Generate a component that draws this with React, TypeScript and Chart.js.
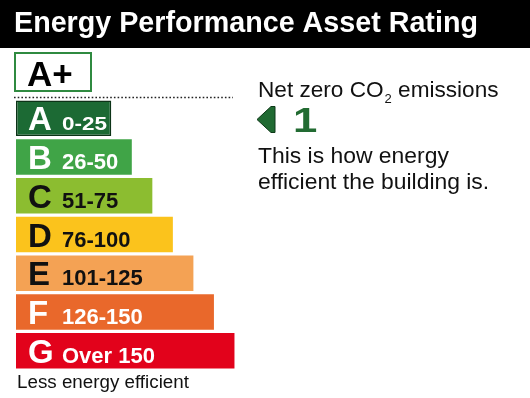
import { useEffect, useRef } from 'react';
import { Chart, registerables } from 'chart.js';

Chart.register(...registerables);

// ---- data ----
const grades = ['A', 'B', 'C', 'D', 'E', 'F', 'G'];
const ranges = ['0-25', '26-50', '51-75', '76-100', '101-125', '126-150', 'Over 150'];
const bandTop = [25, 50, 75, 100, 125, 150, 175];
const barColors = ['#1c6a34', '#40a447', '#8cbd30', '#fbc31c', '#f4a254', '#e9682b', '#e2021b'];
const labelColors = ['#ffffff', '#ffffff', '#111111', '#111111', '#111111', '#ffffff', '#ffffff'];

const title = 'Energy Performance Asset Rating';
const topGrade = 'A+';
const netZeroText = ['Net zero CO', '2', ' emissions'];
const currentRating = '1';
const noteLines = ['This is how energy', 'efficient the building is.'];
const footer = 'Less energy efficient';

const X_MIN = -91;
const X_MAX = 200;
const FONT = "'Liberation Sans', Arial, Helvetica, sans-serif";

const decor = {
  id: 'decor',
  beforeDraw(chart: any) {
    const { ctx, width, height } = chart;
    ctx.save();
    ctx.fillStyle = '#ffffff';
    ctx.fillRect(0, 0, width, height);
    // header band
    ctx.fillStyle = '#000000';
    ctx.fillRect(0, 0, width, 48);
    ctx.fillStyle = '#ffffff';
    ctx.textBaseline = 'alphabetic';
    ctx.textAlign = 'left';
    ctx.font = `bold 28.7px ${FONT}`;
    ctx.fillText(title, 14, 32);

    // A+ box
    ctx.fillStyle = '#ffffff';
    ctx.fillRect(15, 53, 76, 38);
    ctx.strokeStyle = '#2f8a40';
    ctx.lineWidth = 2;
    ctx.strokeRect(15, 53, 76, 38);
    ctx.fillStyle = '#000000';
    ctx.font = `bold 35px ${FONT}`;
    ctx.fillText(topGrade, 27, 86);

    // dotted line
    ctx.setLineDash([1.6, 2.1]);
    ctx.lineWidth = 1.6;
    ctx.strokeStyle = '#222222';
    ctx.beginPath();
    ctx.moveTo(14, 97.5);
    ctx.lineTo(233, 97.5);
    ctx.stroke();
    ctx.setLineDash([]);

    // right side text
    ctx.fillStyle = '#111111';
    ctx.font = `22.6px ${FONT}`;
    let x = 258;
    ctx.fillText(netZeroText[0], x, 97);
    x += ctx.measureText(netZeroText[0]).width + 1;
    ctx.font = `13px ${FONT}`;
    ctx.fillText(netZeroText[1], x, 103);
    x += ctx.measureText(netZeroText[1]).width;
    ctx.font = `22.6px ${FONT}`;
    ctx.fillText(netZeroText[2], x, 97);

    // arrow
    ctx.beginPath();
    ctx.moveTo(257, 119.5);
    ctx.lineTo(271, 106.5);
    ctx.lineTo(275, 106.5);
    ctx.lineTo(275, 132.5);
    ctx.lineTo(271, 132.5);
    ctx.closePath();
    ctx.fillStyle = '#206a32';
    ctx.fill();
    ctx.strokeStyle = '#0d3818';
    ctx.lineWidth = 1;
    ctx.stroke();

    // rating digit
    ctx.save();
    ctx.translate(293, 132);
    ctx.scale(1.25, 1);
    ctx.font = `bold 35px ${FONT}`;
    ctx.fillStyle = '#226b32';
    ctx.fillText(currentRating, 0, 0);
    ctx.restore();

    ctx.fillStyle = '#111111';
    ctx.font = `22.9px ${FONT}`;
    ctx.fillText(noteLines[0], 258, 163);
    ctx.fillText(noteLines[1], 258, 189);

    ctx.font = `18.8px ${FONT}`;
    ctx.fillText(footer, 17, 388);
    ctx.restore();
  },
  afterDatasetsDraw(chart: any) {
    const { ctx } = chart;
    const meta = chart.getDatasetMeta(0);
    ctx.save();
    ctx.textBaseline = 'alphabetic';
    ctx.textAlign = 'left';
    meta.data.forEach((bar: any, i: number) => {
      const { y, base } = bar.getProps(['y', 'base'], true);
      const baseline = y + 12;
      ctx.fillStyle = labelColors[i];
      ctx.font = `bold 33px ${FONT}`;
      ctx.fillText(grades[i], base + 12, baseline);
      if (i === 0) {
        ctx.save();
        ctx.translate(base + 46, baseline);
        ctx.scale(1.25, 1);
        ctx.font = `bold 18px ${FONT}`;
        ctx.fillText(ranges[i], 0, 0);
        ctx.restore();
      } else {
        ctx.font = `bold 22px ${FONT}`;
        ctx.fillText(ranges[i], base + 46, baseline);
      }
    });
    ctx.restore();
  },
};

export default function App() {
  const ref = useRef<HTMLCanvasElement>(null);
  useEffect(() => {
    document.body.style.margin = '0';
    const chart = new Chart(ref.current!, {
      type: 'bar',
      data: {
        labels: grades,
        datasets: [
          {
            data: bandTop,
            base: X_MIN,
            backgroundColor: barColors,
            borderColor: '#0c3317',
            borderWidth: [1.5, 0, 0, 0, 0, 0, 0],
            borderSkipped: false,
            barPercentage: 0.917,
            categoryPercentage: 1,
          } as any,
        ],
      },
      options: {
        indexAxis: 'y',
        responsive: false,
        animation: false,
        layout: { padding: { left: 16, right: 275, top: 99, bottom: 28 } },
        scales: {
          x: { display: false, min: X_MIN, max: X_MAX },
          y: { display: false },
        },
        plugins: {
          legend: { display: false },
          tooltip: { enabled: false },
        },
      },
      plugins: [decor],
    });
    return () => chart.destroy();
  }, []);
  return (
    <canvas
      ref={ref}
      width={530}
      height={398}
      style={{ display: 'block', position: 'fixed', left: 0, top: 0 }}
    />
  );
}
